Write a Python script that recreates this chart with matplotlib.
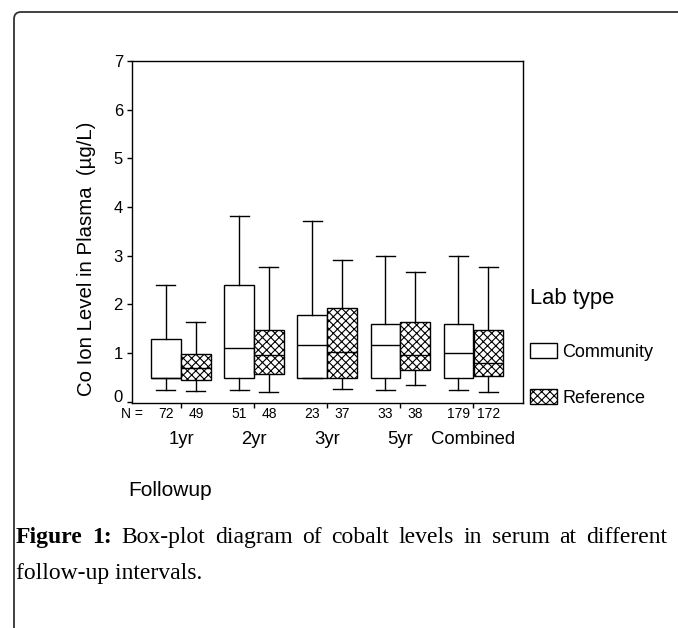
import matplotlib
matplotlib.use('Agg')
import matplotlib.pyplot as plt
from matplotlib.patches import Patch, FancyBboxPatch
from matplotlib.transforms import IdentityTransform, ScaledTranslation
import numpy as np

plt.rcParams['font.family'] = ['Liberation Sans', 'DejaVu Sans']
plt.rcParams['hatch.linewidth'] = 0.8

# ---------------- data ----------------
groups = ['1yr', '2yr', '3yr', '5yr', 'Combined']
lab_types = ['Community', 'Reference']
n_community = [72, 51, 23, 33, 179]
n_reference = [49, 48, 37, 38, 172]

com_whislo = [0.24, 0.24, 0.48, 0.24, 0.24]
com_q1     = [0.48, 0.48, 0.48, 0.48, 0.48]
com_med    = [0.48, 1.10, 1.17, 1.17, 1.01]
com_q3     = [1.29, 2.40, 1.79, 1.60, 1.60]
com_whishi = [2.40, 3.81, 3.71, 3.00, 3.00]

ref_whislo = [0.22, 0.19, 0.27, 0.34, 0.19]
ref_q1     = [0.45, 0.57, 0.48, 0.65, 0.52]
ref_med    = [0.69, 0.96, 1.02, 0.96, 0.80]
ref_q3     = [0.98, 1.47, 1.93, 1.64, 1.47]
ref_whishi = [1.64, 2.76, 2.91, 2.67, 2.76]

y_ticks = [0, 1, 2, 3, 4, 5, 6, 7]
y_label = 'Co Ion Level in Plasma  (\u00b5g/L)'
x_label = 'Followup'
legend_title = 'Lab type'
caption_words = ['Figure', '1:', 'Box-plot', 'diagram', 'of', 'cobalt',
                 'levels', 'in', 'serum', 'at', 'different']
caption_bold = [True, True] + [False] * 9
caption_line2 = 'follow-up intervals.'

# ---------------- figure ----------------
W, H = 678, 628
fig = plt.figure(figsize=(W / 100, H / 100), dpi=100)
fig.patch.set_facecolor('white')


def fx(px):
    return px / W


def fy(py):
    return 1 - py / H


ax = fig.add_axes([fx(132), fy(403), fx(522.5) - fx(132), fy(61) - fy(403)])


def make_stats(lo, q1, med, q3, hi):
    return [dict(whislo=a, q1=b, med=c, q3=d, whishi=e, fliers=[])
            for a, b, c, d, e in zip(lo, q1, med, q3, hi)]


x = np.arange(len(groups))
off = 0.205
bw = 0.4
common = dict(widths=bw, capwidths=0.26, patch_artist=True, showfliers=False,
              medianprops=dict(color='black', linewidth=1.0),
              whiskerprops=dict(color='black', linewidth=1.0),
              capprops=dict(color='black', linewidth=1.0))

ax.bxp(make_stats(com_whislo, com_q1, com_med, com_q3, com_whishi),
       positions=x - off,
       boxprops=dict(facecolor='white', edgecolor='black', linewidth=1.0),
       **common)
ax.bxp(make_stats(ref_whislo, ref_q1, ref_med, ref_q3, ref_whishi),
       positions=x + off,
       boxprops=dict(facecolor='white', edgecolor='black', linewidth=1.0,
                     hatch='xxxx'),
       **common)

ax.set_xlim(-0.67, 4.675)
ax.set_ylim(-0.027, 7)
ax.set_yticks(y_ticks)
ax.set_yticklabels([str(t) for t in y_ticks], fontsize=12)
ax.tick_params(axis='y', direction='out', length=3.5, width=1.0, pad=3)
ax.set_xticks(x)
ax.set_xticklabels(groups, fontsize=13.3)
ax.tick_params(axis='x', direction='out', length=3.5, width=1.0, pad=17)
for s in ax.spines.values():
    s.set_linewidth(1.0)
    s.set_color('black')

# nudge the 0 label up a little, as in the original
lab0 = ax.get_yticklabels()[0]
lab0.set_transform(lab0.get_transform() + ScaledTranslation(0, 6 / 100, fig.dpi_scale_trans))

# N counts
ax.annotate('N =', xy=(0, 0), xycoords='axes fraction', xytext=(0, -11),
            textcoords='offset pixels', ha='center', va='center', fontsize=10)
for i in range(len(groups)):
    ax.annotate(str(n_community[i]), xy=(x[i] - off, 0),
                xycoords=('data', 'axes fraction'), xytext=(0, -11),
                textcoords='offset pixels', ha='center', va='center', fontsize=10)
    ax.annotate(str(n_reference[i]), xy=(x[i] + off, 0),
                xycoords=('data', 'axes fraction'), xytext=(0, -11),
                textcoords='offset pixels', ha='center', va='center', fontsize=10)

# axis labels
fig.text(fx(87), fy(259), y_label, rotation=90, ha='center', va='center',
         fontsize=14.7)
fig.text(fx(128), fy(490), x_label, ha='left', va='center', fontsize=15)

# legend
handles = [Patch(facecolor='white', edgecolor='black', linewidth=1.0, label=lab_types[0]),
           Patch(facecolor='white', edgecolor='black', linewidth=1.0, hatch='xxxx',
                 label=lab_types[1])]
leg = ax.legend(handles=handles, title=legend_title, loc='upper left',
                bbox_to_anchor=(fx(530), fy(288)), bbox_transform=fig.transFigure,
                frameon=False, fontsize=13, title_fontsize=15.8, alignment='left',
                handlelength=1.5, handleheight=0.86, handletextpad=0.28,
                labelspacing=1.58, borderpad=0, borderaxespad=0)
try:
    leg._legend_box.sep = 1.9 * 13
except Exception:
    pass

# outer frame with rounded top-left corner
frame = FancyBboxPatch((14, -20), 700, 628 - 12 + 20, boxstyle='round,pad=0,rounding_size=7',
                       transform=IdentityTransform(), facecolor='none',
                       edgecolor='#333333', linewidth=1.3, clip_on=False)
fig.add_artist(frame)

# caption (justified first line)
fig.canvas.draw()
r = fig.canvas.get_renderer()
cap_fs = 17
tmp = []
widths = []
for w, b in zip(caption_words, caption_bold):
    t = fig.text(0, 0, w, fontsize=cap_fs, family='Liberation Serif',
                 weight='bold' if b else 'normal')
    widths.append(t.get_window_extent(renderer=r).width)
    tmp.append(t)
left, right = 16, 667
gap = (right - left - sum(widths)) / (len(widths) - 1)
xpos = left
for t, wdt in zip(tmp, widths):
    t.set_position((fx(xpos), fy(543)))
    t.set_va('baseline')
    xpos += wdt + gap
fig.text(fx(16), fy(579), caption_line2, fontsize=cap_fs, family='Liberation Serif',
         va='baseline')

fig.savefig('out.png', dpi=100)
